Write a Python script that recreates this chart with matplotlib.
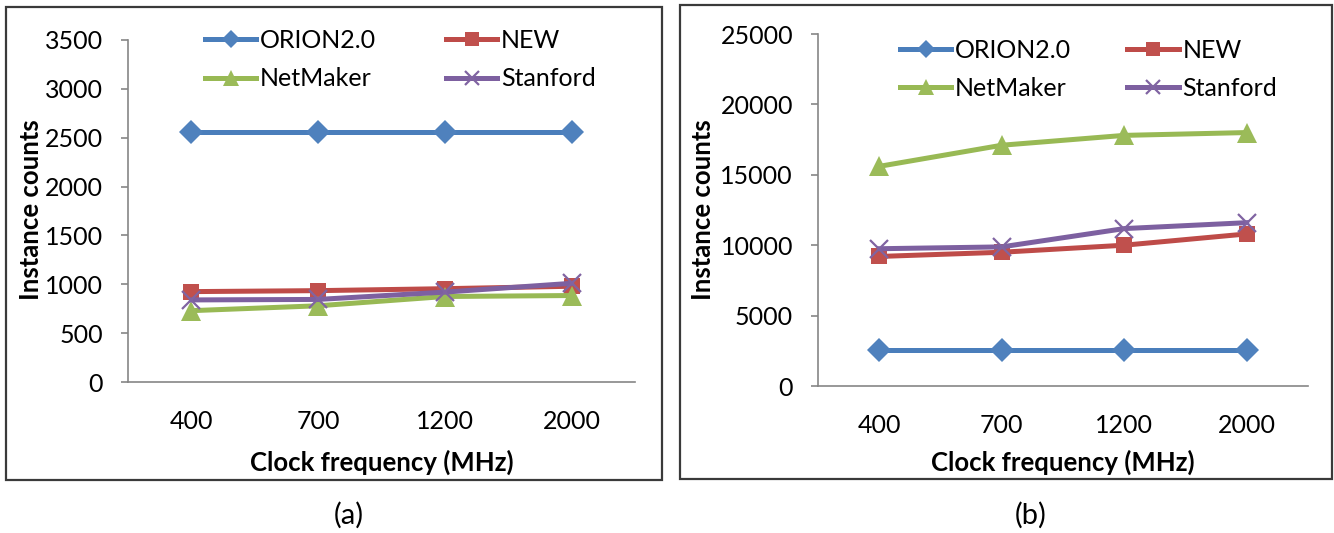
import matplotlib.pyplot as plt
from matplotlib.patches import Rectangle

plt.rcParams['font.family'] = ['Lato', 'DejaVu Sans']

freqs = ['400', '700', '1200', '2000']
series_names = ['ORION2.0', 'NEW', 'NetMaker', 'Stanford']

# (a) instance counts
orion_a = [2560, 2560, 2560, 2560]
new_a = [925, 935, 955, 980]
netmaker_a = [730, 780, 875, 885]
stanford_a = [840, 845, 920, 1010]

# (b) instance counts
orion_b = [2560, 2560, 2560, 2560]
new_b = [9200, 9500, 10000, 10800]
netmaker_b = [15600, 17100, 17800, 18000]
stanford_b = [9750, 9880, 11180, 11600]

styles = {
    'ORION2.0': dict(color='#4A7EBB', mfc='#4F81BD', mec='#4F81BD', marker='D', ms=12),
    'NEW': dict(color='#BE4B48', mfc='#C0504D', mec='#C0504D', marker='s', ms=11),
    'NetMaker': dict(color='#98B954', mfc='#9BBB59', mec='#9BBB59', marker='^', ms=14),
    'Stanford': dict(color='#7D60A0', mfc='#8064A2', mec='#8064A2', marker='x', ms=13, mew=1.6),
}
legend_ms = {'ORION2.0': 9, 'NEW': 10, 'NetMaker': 11, 'Stanford': 10}

W, H = 1334, 533
fig = plt.figure(figsize=(W / 100, H / 100), dpi=100)

# panel frames
for x0, y0, x1, y1 in [(6, 7, 662, 480), (680, 5, 1332, 479)]:
    fig.patches.append(Rectangle((x0 / W, 1 - y1 / H), (x1 - x0) / W, (y1 - y0) / H,
                                 transform=fig.transFigure, fill=False,
                                 edgecolor='#3a3a3a', linewidth=1.6))


def panel(rect, data, ymax, ystep, leg_anchor, leg_spacing, col_spacing):
    ax = fig.add_axes(rect)
    x = range(len(freqs))
    handles = {}
    for name, vals in zip(series_names, data):
        st = dict(styles[name])
        mew = st.pop('mew', 0)
        (h,) = ax.plot(x, vals, lw=3.6, markeredgewidth=mew, label=name, **st)
        handles[name] = h
    ax.set_xlim(-0.5, len(freqs) - 0.5)
    ax.set_ylim(0, ymax)
    ax.set_yticks(range(0, ymax + 1, ystep))
    ax.set_xticks(list(x))
    ax.set_xticklabels(freqs)
    for s in ['top', 'right']:
        ax.spines[s].set_visible(False)
    for s in ['left', 'bottom']:
        ax.spines[s].set_color('#868686')
        ax.spines[s].set_linewidth(1.2)
    ax.tick_params(axis='y', length=5, width=1.2, color='#868686', pad=13,
                   labelsize=18)
    ax.tick_params(axis='x', length=0, pad=20, labelsize=18)
    order = ['ORION2.0', 'NetMaker', 'NEW', 'Stanford']
    leg = ax.legend([handles[n] for n in order], order, ncol=2, loc='upper left',
                    bbox_to_anchor=leg_anchor, bbox_transform=fig.transFigure,
                    frameon=False, fontsize=18, handlelength=2.05, handletextpad=0.15,
                    borderpad=0, borderaxespad=0, labelspacing=leg_spacing,
                    columnspacing=col_spacing)
    for lh, n in zip(leg.legend_handles, order):
        lh.set_markersize(legend_ms[n])
    return ax


ax_a = panel([128 / W, 1 - 382 / H, 507 / W, 342 / H],
             [orion_a, new_a, netmaker_a, stanford_a], 3500, 500,
             (205 / W, 1 - 29 / H), 0.62, 2.8)
ax_b = panel([818 / W, 1 - 386 / H, 490 / W, 352 / H],
             [orion_b, new_b, netmaker_b, stanford_b], 25000, 5000,
             (900 / W, 1 - 39 / H), 0.6, 2.25)

# axis titles and captions
for cx, ylx, cap, capx in [(382, 31, '(a)', 349), (1063, 703, '(b)', 1031)]:
    fig.text(cx / W, 1 - 462 / H, 'Clock frequency (MHz)', ha='center', va='center',
             fontsize=18.5, fontweight='bold')
    fig.text(ylx / W, 1 - 210 / H, 'Instance counts', ha='center', va='center',
             rotation=90, fontsize=18.5, fontweight='bold')
    fig.text(capx / W, 1 - 515 / H, cap, ha='center', va='center', fontsize=21)

fig.savefig('out.png', dpi=100)
